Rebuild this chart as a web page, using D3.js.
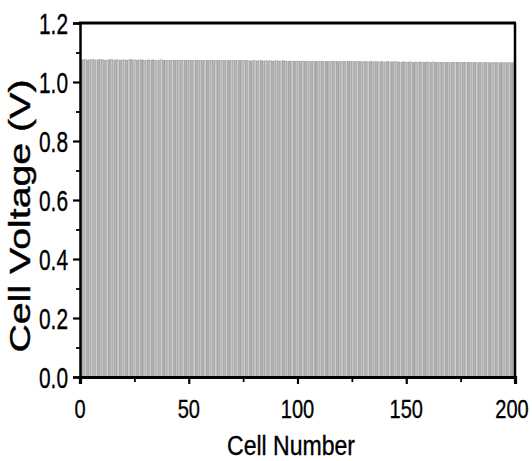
<!DOCTYPE html>
<html><head><meta charset="utf-8">
<script src="https://cdn.jsdelivr.net/npm/d3@7"></script>
<style>body{margin:0;background:#fff}svg{display:block}</style>
</head><body>
<svg id="c" width="532" height="461"></svg>
<script>
// Cell voltages (V), cells 1..200 (~1.07 V each)
const cellVoltages = [
1.076,1.075,1.076,1.074,1.075,1.076,1.075,1.074,1.075,1.076,
1.075,1.074,1.075,1.075,1.076,1.074,1.075,1.075,1.074,1.075,
1.075,1.074,1.075,1.076,1.074,1.075,1.074,1.075,1.075,1.074,
1.074,1.075,1.074,1.075,1.074,1.073,1.074,1.075,1.074,1.074,
1.073,1.074,1.074,1.073,1.074,1.074,1.073,1.074,1.073,1.074,
1.073,1.074,1.073,1.073,1.074,1.073,1.072,1.073,1.074,1.073,
1.073,1.072,1.073,1.073,1.072,1.073,1.073,1.072,1.073,1.072,
1.073,1.072,1.072,1.073,1.072,1.073,1.072,1.072,1.071,1.072,
1.072,1.071,1.072,1.072,1.071,1.072,1.071,1.072,1.071,1.071,
1.072,1.071,1.071,1.072,1.071,1.070,1.071,1.071,1.070,1.071,
1.071,1.070,1.071,1.070,1.071,1.070,1.070,1.071,1.070,1.070,
1.071,1.070,1.069,1.070,1.070,1.069,1.070,1.070,1.069,1.070,
1.069,1.070,1.069,1.069,1.070,1.069,1.069,1.070,1.069,1.068,
1.069,1.069,1.068,1.069,1.069,1.068,1.069,1.068,1.069,1.068,
1.068,1.069,1.068,1.068,1.069,1.068,1.068,1.067,1.068,1.068,
1.067,1.068,1.068,1.067,1.068,1.067,1.068,1.067,1.067,1.068,
1.067,1.067,1.068,1.067,1.066,1.067,1.067,1.066,1.067,1.067,
1.066,1.067,1.066,1.067,1.066,1.066,1.067,1.066,1.066,1.067,
1.066,1.066,1.065,1.066,1.066,1.065,1.066,1.066,1.065,1.066,
1.065,1.066,1.065,1.065,1.066,1.065,1.065,1.066,1.065,1.065
];
const xTicks = [0, 50, 100, 150, 200];
const xMinorTicks = [25, 75, 125, 175];
const yTicks = [0.0, 0.2, 0.4, 0.6, 0.8, 1.0, 1.2];
const yMinorTicks = [0.1, 0.3, 0.5, 0.7, 0.9, 1.1];
const xTitle = "Cell Number";
const yTitle = "Cell Voltage (V)";

const svg = d3.select("#c");
const L = 80, R = 515, T = 23, B = 377;
const x = d3.scaleLinear().domain([0, 200]).range([L, R]);
const y = d3.scaleLinear().domain([0, 1.2]).range([B, T]);

// bars
const shades = ["#c6c6c6", "#b6b6b6", "#cecece", "#b0b0b0", "#c2c2c2"];
svg.append("g").selectAll("rect").data(cellVoltages).join("rect")
  .attr("x", (d, i) => x(i))
  .attr("width", x(1) - x(0))
  .attr("y", d => y(d))
  .attr("height", d => y(0) - y(d))
  .attr("fill", (d, i) => shades[i % shades.length])
  .attr("stroke", "#8c8c8c")
  .attr("stroke-width", 0.35);

// frame
const frame = svg.append("g").attr("fill", "none").attr("stroke", "#000");
frame.append("line").attr("x1", L - 1).attr("x2", R + 1).attr("y1", T).attr("y2", T).attr("stroke-width", 3);
frame.append("line").attr("x1", R).attr("x2", R).attr("y1", T).attr("y2", B).attr("stroke-width", 2.5);

// x axis
const xAx = svg.append("g").attr("transform", `translate(0,${B})`)
  .call(d3.axisBottom(x).tickValues(xTicks).tickSize(7).tickFormat(""));
xAx.select(".domain").attr("stroke-width", 3.2);
xAx.selectAll(".tick line").attr("stroke-width", 2.2);
svg.append("g").attr("transform", `translate(0,${B})`)
  .call(d3.axisBottom(x).tickValues(xMinorTicks).tickSize(5).tickFormat(""))
  .call(g => g.select(".domain").remove())
  .selectAll(".tick line").attr("stroke-width", 1.8);

// y axis
const yAx = svg.append("g").attr("transform", `translate(${L},0)`)
  .call(d3.axisLeft(y).tickValues(yTicks).tickSize(7).tickFormat(""));
yAx.select(".domain").attr("stroke-width", 2.5);
yAx.selectAll(".tick line").attr("stroke-width", 2.2);
svg.append("g").attr("transform", `translate(${L},0)`)
  .call(d3.axisLeft(y).tickValues(yMinorTicks).tickSize(4).tickFormat(""))
  .call(g => g.select(".domain").remove())
  .selectAll(".tick line").attr("stroke-width", 1.8);

const font = "'Liberation Sans', Arial, sans-serif";
// y tick labels (condensed)
svg.append("g").selectAll("text").data(yTicks).join("text")
  .attr("transform", d => `translate(68,${y(d) + 10.5}) scale(0.72,1)`)
  .attr("text-anchor", "end")
  .attr("font-family", font).attr("font-size", 29)
  .attr("stroke", "#000").attr("stroke-width", 0.35)
  .text(d => d.toFixed(1));

// x tick labels (condensed)
const xLabDx = {0: 0, 50: 0, 100: 0, 150: 0, 200: -3};
svg.append("g").selectAll("text").data(xTicks).join("text")
  .attr("transform", d => `translate(${x(d) + xLabDx[d]},418) scale(0.77,1)`)
  .attr("text-anchor", "middle")
  .attr("font-family", font).attr("font-size", 26)
  .attr("stroke", "#000").attr("stroke-width", 0.35)
  .text(d => d);

// titles
svg.append("text").attr("x", 291).attr("y", 455).attr("text-anchor", "middle")
  .attr("font-family", font).attr("font-size", 27)
  .attr("stroke", "#000").attr("stroke-width", 0.35)
  .attr("textLength", 128).attr("lengthAdjust", "spacingAndGlyphs")
  .text(xTitle);
svg.append("text").attr("transform", "translate(30,216) rotate(-90)")
  .attr("text-anchor", "middle")
  .attr("font-family", font).attr("font-size", 29)
  .attr("stroke", "#000").attr("stroke-width", 0.4)
  .attr("textLength", 273).attr("lengthAdjust", "spacingAndGlyphs")
  .text(yTitle);
</script>
</body></html>
